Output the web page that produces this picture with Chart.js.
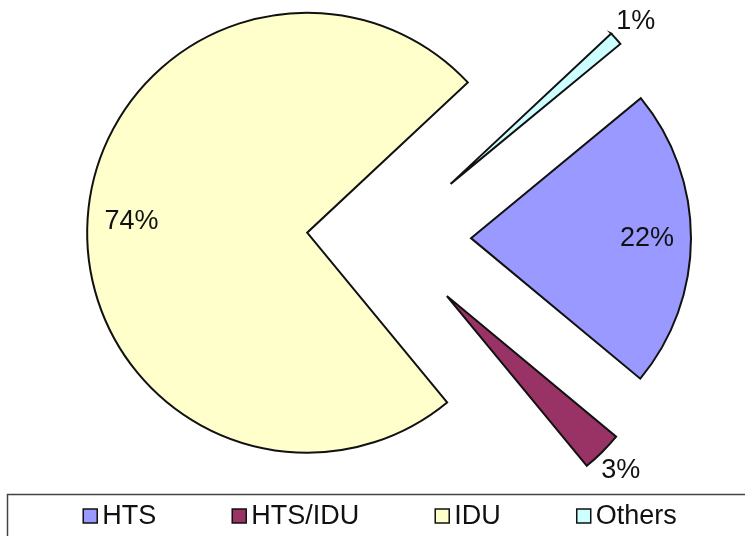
<!DOCTYPE html>
<html>
<head>
<meta charset="utf-8">
<title>Pie</title>
<script src="https://cdn.jsdelivr.net/npm/chart.js@4/dist/chart.umd.min.js"></script>
<style>
    html, body { margin: 0; padding: 0; background: #ffffff; }
    #pieChart { display: block; }
</style>
</head>
<body>
<canvas id="pieChart" width="745" height="536"></canvas>
<script>
const categories = ['HTS', 'HTS/IDU', 'IDU', 'Others'];
const shares = [22, 3, 74, 1];
const sliceColors = ['#9999FF', '#993366', '#FFFFCC', '#CCFFFF'];

const PIE_RADIUS = 220;
const EXPLODE = 82; // px every slice is pulled out along its middle
const LABEL_FONT = '27px "Liberation Sans", Arial, sans-serif';
const LEGEND_FONT = '27px "Liberation Sans", Arial, sans-serif';

// the built-in arc offset also narrows thin slices, so move the arcs ourselves
const explodeSlices = {
    id: 'explodeSlices',
    afterDatasetUpdate(chart, args) {
        args.meta.data.forEach(arc => {
            const mid = (arc.startAngle + arc.endAngle) / 2;
            arc.x += Math.cos(mid) * EXPLODE;
            arc.y += Math.sin(mid) * EXPLODE;
        });
    }
};

const percentLabels = {
    id: 'percentLabels',
    afterDatasetsDraw(chart) {
        const ctx = chart.ctx;
        const meta = chart.getDatasetMeta(0);
        const values = chart.data.datasets[0].data;
        const total = values.reduce((a, b) => a + b, 0);
        ctx.save();
        ctx.font = LABEL_FONT;
        ctx.fillStyle = '#111111';
        ctx.textAlign = 'center';
        ctx.textBaseline = 'middle';
        meta.data.forEach((arc, i) => {
            const share = values[i] / total;
            const mid = (arc.startAngle + arc.endAngle) / 2;
            const dist = (share < 0.05 ? 1.12 : 0.8) * arc.outerRadius;
            const x = arc.x + Math.cos(mid) * dist;
            const y = arc.y + Math.sin(mid) * dist;
            ctx.fillText(Math.round(share * 100) + '%', x, y);
        });
        ctx.restore();
    }
};

// legend drawn by hand: box close to its text, wide gaps between items, framed
const boxedLegend = {
    id: 'boxedLegend',
    afterDraw(chart) {
        const ctx = chart.ctx;
        const items = chart.options.plugins.legend.labels.generateLabels(chart);
        const box = 14, gap = 5, spacing = 76, centerY = 516, centerX = 380;
        ctx.save();
        ctx.strokeStyle = '#444444';
        ctx.lineWidth = 1.5;
        ctx.strokeRect(7.5, 494.5, 800, 100);
        ctx.font = LEGEND_FONT;
        ctx.textBaseline = 'middle';
        ctx.textAlign = 'left';
        const widths = items.map(it => box + gap + ctx.measureText(it.text).width);
        const total = widths.reduce((a, b) => a + b, 0) + spacing * (items.length - 1);
        let x = centerX - total / 2;
        items.forEach((it, i) => {
            ctx.fillStyle = it.fillStyle;
            ctx.fillRect(x, centerY - box / 2, box, box);
            ctx.strokeStyle = '#111111';
            ctx.lineWidth = 1.5;
            ctx.strokeRect(x, centerY - box / 2, box, box);
            ctx.fillStyle = '#111111';
            ctx.fillText(it.text, x + box + gap, centerY + 1);
            x += widths[i] + spacing;
        });
        ctx.restore();
    }
};

document.addEventListener("DOMContentLoaded", function() {
    const pieCanvas = document.getElementById('pieChart').getContext('2d');

    let pieChart = new Chart(pieCanvas, {
        type: 'pie',
        data: {
            labels: categories,
            datasets: [{
                data: shares,
                backgroundColor: sliceColors,
                borderColor: '#111111',
                borderWidth: 2,
                borderJoinStyle: 'miter',
                hoverOffset: 0
            }]
        },
        options: {
            responsive: false,
            animation: false,
            devicePixelRatio: 1,
            radius: PIE_RADIUS,
            rotation: 50.5,
            layout: {
                padding: { left: 33, right: 0, top: 0, bottom: 60 }
            },
            plugins: {
                legend: { display: false },
                tooltip: { enabled: false }
            }
        },
        plugins: [explodeSlices, percentLabels, boxedLegend]
    });
});
</script>
</body>
</html>
